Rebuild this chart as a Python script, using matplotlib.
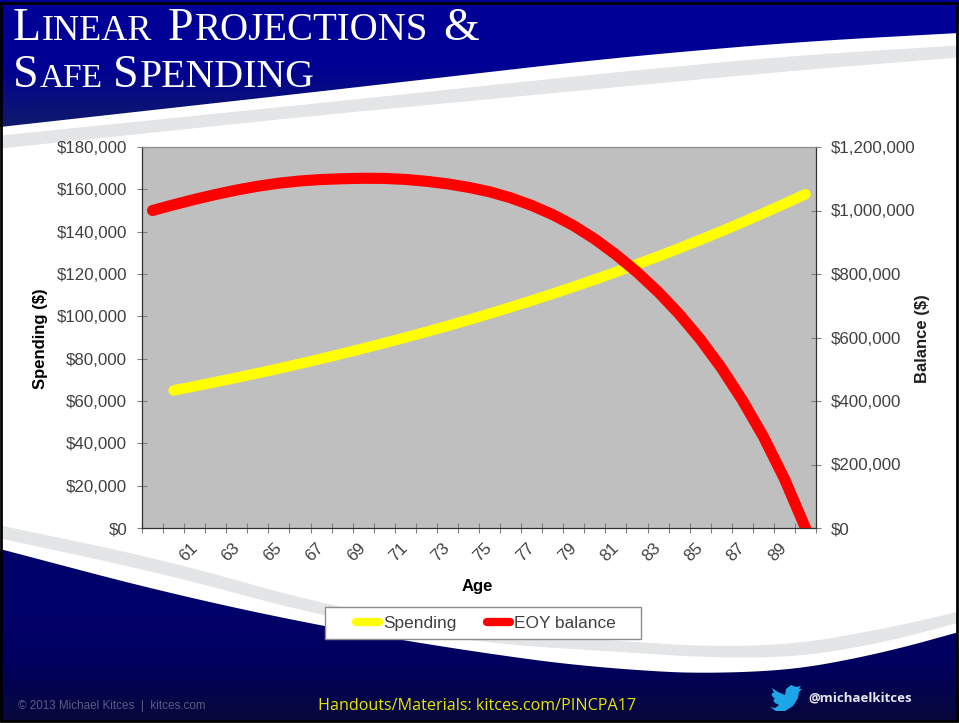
import numpy as np
import matplotlib
matplotlib.use('Agg')
import matplotlib.pyplot as plt
from matplotlib.patches import Polygon, Rectangle
from matplotlib.colors import LinearSegmentedColormap
from matplotlib.ticker import FixedLocator, FuncFormatter, NullFormatter
from matplotlib.transforms import ScaledTranslation

# Spending starts at 60, balance one year earlier
ages = list(range(59, 91))
spending = [None, 65000, 66950, 68960, 71030, 73160, 75350, 77610, 79940, 82340,
            84810, 87350, 89980, 92670, 95450, 98320, 101270, 104310, 107440, 110660,
            113980, 117400, 120920, 124550, 128280, 132130, 136100, 140180, 144390,
            148720, 153180, 157700]
balance = [1000000, 1018000, 1035000, 1050500, 1064500, 1076500, 1086000, 1093000,
           1097500, 1100000, 1101500, 1101000, 1098000, 1092000, 1084000, 1073000,
           1059000, 1040000, 1016000, 987000, 952000, 910000, 861000, 806000,
           744000, 674000, 595000, 505000, 403000, 288000, 155000, 0]
spending_ticks = [0, 20000, 40000, 60000, 80000, 100000, 120000, 140000, 160000, 180000]
balance_ticks = [0, 200000, 400000, 600000, 800000, 1000000, 1200000]

W, H = 959, 723
SANS = 'Liberation Sans'
TEXT = '#404040'


def smooth(xs, ys, window=81):
    # Smooth edge for the slide's swooshes
    x = np.arange(0, W + 1, 2)
    y = np.interp(x, xs, ys)
    half = window // 2
    left = y[0] - (y[half] - y[0]) * np.arange(half, 0, -1) / half
    right = y[-1] + (y[-1] - y[-1 - half]) * np.arange(1, half + 1) / half
    padded = np.concatenate([left, y, right])
    return x, np.convolve(padded, np.ones(window) / window, mode='valid')


def gradient_fill(bg, outline, stops, y0, y1):
    cmap = LinearSegmentedColormap.from_list('fill', stops)
    im = bg.imshow(np.linspace(0, 1, 256).reshape(-1, 1), cmap=cmap, aspect='auto',
                   extent=(0, W, y1, y0), zorder=2)
    patch = Polygon(outline, closed=True, transform=bg.transData, fc='none', ec='none')
    bg.add_patch(patch)
    im.set_clip_path(patch)


def small_caps(fig, y, words, big=33):
    # Small caps title: first letter large, the rest of the word smaller
    r = fig.canvas.get_renderer()
    for x, first, rest, small in words:
        t = fig.text(x / W, 1 - y / H, first, color='white', family='Liberation Serif',
                     fontsize=big, va='baseline', ha='left')
        if rest:
            x += t.get_window_extent(r).width + 1
            fig.text(x / W, 1 - y / H, rest, color='white', family='Liberation Serif',
                     fontsize=small, va='baseline', ha='left')


fig = plt.figure(figsize=(W / 100, H / 100), dpi=100, facecolor='white')

# Slide background
bg = fig.add_axes([0, 0, 1, 1], zorder=0)
bg.set_xlim(0, W)
bg.set_ylim(H, 0)
bg.axis('off')

x, top_edge = smooth([0, 306, 612, 795, 959], [127, 93, 58, 42, 33])
gradient_fill(bg, [(0, 0)] + list(zip(x, top_edge)) + [(W, 0)],
              ['#000099', '#000094', '#0f1c68'], 0, 130)
x, low = smooth([0, 306, 612, 795, 959], [135, 104, 72, 55, 45])
x, high = smooth([0, 306, 612, 795, 959], [148, 116, 87, 70, 57])
bg.fill_between(x, low, high, color='#e3e5e6', lw=0, zorder=1)

x, bottom_edge = smooth([0, 167, 325, 480, 613, 747, 847, 959],
                        [549, 593, 627, 653, 670, 675, 663, 632])
gradient_fill(bg, [(0, H)] + list(zip(x, bottom_edge)) + [(W, H)],
              ['#00006b', '#00006b', '#000060', '#07073a'], 545, 722)
x, low = smooth([0, 167, 325, 480, 647, 747, 847, 959],
                [525, 560, 605, 632, 642, 649, 637, 611])
x, high = smooth([0, 167, 325, 480, 647, 747, 847, 959],
                 [538, 574, 617, 643, 653, 660, 652, 622])
bg.fill_between(x, low, high, color='#e3e5e6', lw=0, zorder=1)
bg.add_patch(Rectangle((1, 3), W - 3, H - 5, fc='none', ec='black', lw=2, zorder=5))

# Twitter bird
bird = [(770, 707), (775, 708), (779, 705), (775, 703), (773, 700), (775, 699), (772, 696),
        (772, 693), (774, 693), (772, 688), (778, 692), (785, 695), (786, 689), (791, 685),
        (796, 687), (801, 686), (799, 689), (802, 689), (799, 692), (798, 698), (793, 706),
        (785, 711), (776, 711)]
bg.add_patch(Polygon(bird, closed=True, fc='#1ca6e8', ec='none', zorder=6))

# Chart
ax = fig.add_axes([142 / W, 1 - 528 / H, 674 / W, 381 / H], zorder=2, facecolor='#bfbfbf')
pos = np.arange(len(ages))
line_spending, = ax.plot(pos, [np.nan if v is None else v for v in spending], color='#ffff00',
                         lw=7.6, solid_capstyle='round', label='Spending', zorder=3)
ax.set_xlim(-0.5, len(ages) - 0.5)
ax.set_ylim(0, 180000)
ax.set_yticks(spending_ticks)
ax.yaxis.set_major_formatter(FuncFormatter(lambda v, p: f'${v:,.0f}'))
ax.xaxis.set_major_locator(FixedLocator(np.arange(-0.5, len(ages))))
ax.xaxis.set_major_formatter(NullFormatter())
label_pos = [i for i, a in enumerate(ages) if a % 2 == 1 and a > 59]
ax.set_xticks(label_pos, [str(ages[i]) for i in label_pos], minor=True)
ax.tick_params(axis='x', which='minor', length=0, pad=17.3, labelsize=12.2, labelcolor=TEXT,
               labelrotation=45)
ax.tick_params(axis='x', which='major', direction='inout', length=7.2, width=0.8, color='#808080')
ax.tick_params(axis='y', direction='inout', length=7.2, width=0.8, color='#808080',
               labelsize=12.2, labelcolor=TEXT, pad=7)
shift = ScaledTranslation(-6.5 / 100, 0, fig.dpi_scale_trans)
for lab in ax.get_xticklabels(minor=True):
    lab.set_family(SANS)
    lab.set_ha('center')
    lab.set_va('center')
    lab.set_transform(lab.get_transform() + shift)
for lab in ax.get_yticklabels():
    lab.set_family(SANS)
ax.set_xlabel('Age', family=SANS, fontweight='bold', fontsize=12, va='center')
ax.xaxis.set_label_coords((477 - 142) / 674, -(586 - 528) / 381)
ax.set_ylabel('Spending ($)', family=SANS, fontweight='bold', fontsize=12, va='center')
ax.yaxis.set_label_coords((41 - 142) / 674, (528 - 338.5) / 381)

ax2 = ax.twinx()
line_balance, = ax2.plot(pos, balance, color='#ff0000', lw=8, solid_capstyle='round',
                         label='EOY balance', zorder=4)
ax2.set_ylim(0, 1200000)
ax2.set_yticks(balance_ticks)
ax2.yaxis.set_major_formatter(FuncFormatter(lambda v, p: f'${v:,.0f}'))
ax2.tick_params(axis='y', direction='inout', length=7.2, width=0.8, color='#808080',
                labelsize=12.2, labelcolor=TEXT, pad=7)
for lab in ax2.get_yticklabels():
    lab.set_family(SANS)
ax2.set_ylabel('Balance ($)', family=SANS, fontweight='bold', fontsize=12, va='center', color='#202020')
ax2.yaxis.set_label_coords((922 - 142) / 674, (528 - 339) / 381)
for a in (ax, ax2):
    a.spines['top'].set_color('#8c8c8c')
    for side in ('left', 'right', 'bottom'):
        a.spines[side].set_color('#303030')

# Legend box and entries
fig.add_artist(Rectangle((325 / W, 1 - 639 / H), 316 / W, 32 / H, transform=fig.transFigure,
                         fc='white', ec='#8c8c8c', lw=1, zorder=3))
leg = fig.legend([line_spending, line_balance], ['Spending', 'EOY balance'], ncol=2,
                 loc='center left', bbox_to_anchor=(340 / W, 1 - 623.5 / H),
                 frameon=False, handlelength=1.35, handletextpad=0.25, columnspacing=1.75,
                 prop={'family': SANS, 'size': 12.4}, labelcolor=TEXT)
leg.set_zorder(4)
for h in leg.legend_handles:
    h.set_linewidth(6)

# Slide title and footer
fig.canvas.draw()
small_caps(fig, 40, [(13, 'L', 'INEAR', 26), (168, 'P', 'ROJECTIONS', 28), (443, '&', '', 0)])
small_caps(fig, 87, [(13, 'S', 'AFE', 24), (113, 'S', 'PENDING', 28.7)])
fig.text(318 / W, 1 - 706 / H, 'Handouts/Materials: kitces.com/PINCPA17', color='#e6e600',
         family='Open Sans', fontsize=11.65, va='center', ha='left')
fig.text(808 / W, 1 - 698 / H, '@michaelkitces', color='#e6e6ee', family='Open Sans',
         fontweight='bold', fontsize=9.5, va='center', ha='left')
fig.text(18 / W, 1 - 706 / H, '© 2013 Michael Kitces  |  kitces.com', color='#5c5c80',
         family=SANS, fontsize=8.4, va='center', ha='left')

fig.savefig('out.png', dpi=100)
